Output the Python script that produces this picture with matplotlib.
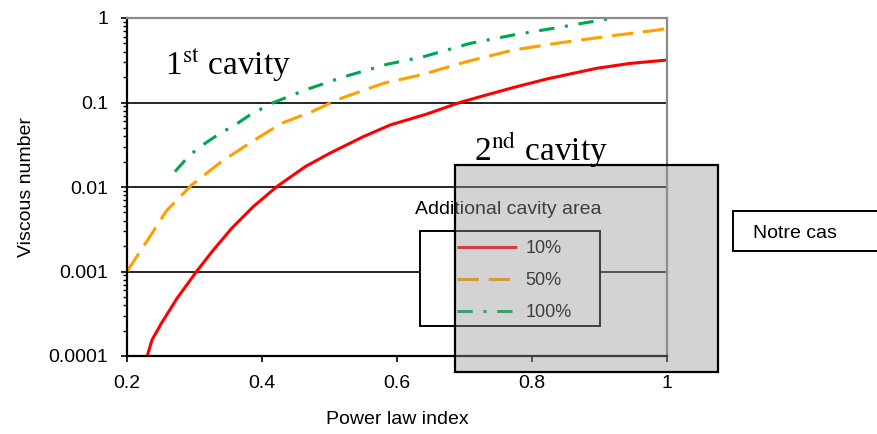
import matplotlib
matplotlib.use("Agg")
import matplotlib.pyplot as plt
from matplotlib.patches import Rectangle
from matplotlib.ticker import FixedLocator, FixedFormatter, LogLocator, NullFormatter

plt.rcParams['font.family'] = ['Liberation Sans', 'DejaVu Sans']
plt.rcParams['mathtext.fontset'] = 'stix'

# ---- data ----
red_x = [0.23, 0.237, 0.251, 0.274, 0.303, 0.328, 0.355, 0.387, 0.422, 0.464, 0.50,
         0.55, 0.59, 0.644, 0.693, 0.723, 0.772, 0.822, 0.896, 0.945, 1.00]
red_y = [1.0e-4, 1.55e-4, 2.44e-4, 4.8e-4, 1.0e-3, 1.8e-3, 3.24e-3, 5.85e-3, 1.01e-2,
         1.74e-2, 2.5e-2, 3.94e-2, 5.42e-2, 7.3e-2, 0.10, 0.117, 0.15, 0.19, 0.254,
         0.29, 0.318]

orange_x = [0.20, 0.229, 0.259, 0.296, 0.34, 0.385, 0.429, 0.474, 0.513, 0.58, 0.634,
            0.703, 0.772, 0.846, 0.92, 0.985, 1.00]
orange_y = [1.0e-3, 2.25e-3, 5.3e-3, 1.06e-2, 2.0e-2, 3.44e-2, 5.68e-2, 7.8e-2, 0.109,
            0.169, 0.211, 0.304, 0.418, 0.515, 0.618, 0.72, 0.75]

green_x = [0.271, 0.293, 0.316, 0.338, 0.36, 0.382, 0.414, 0.464, 0.52, 0.585, 0.639,
           0.708, 0.772, 0.846, 0.92, 0.95]
green_y = [0.0152, 0.0239, 0.033, 0.0432, 0.0542, 0.0711, 0.0977, 0.1406, 0.20, 0.283,
           0.348, 0.50, 0.629, 0.789, 1.0, 1.1]

series_labels = ["10%", "50%", "100%"]
x_ticks = [0.2, 0.4, 0.6, 0.8, 1.0]
x_tick_labels = ["0.2", "0.4", "0.6", "0.8", "1"]
y_ticks = [1e-4, 1e-3, 1e-2, 1e-1, 1]
y_tick_labels = ["0.0001", "0.001", "0.01", "0.1", "1"]

W, H = 877, 434
fig = plt.figure(figsize=(W / 100, H / 100), dpi=100)
ax = fig.add_axes([127 / W, 1 - 356 / H, 540 / W, 338 / H])

ax.set_yscale('log')
ax.set_xlim(0.2, 1.0)
ax.set_ylim(1e-4, 1)

ax.plot(red_x, red_y, color='#ff0000', lw=2.2, label=series_labels[0], solid_capstyle='butt')
ax.plot(orange_x, orange_y, color='#ffa000', lw=2.2, dashes=(7, 3.2), label=series_labels[1])
ax.plot(green_x, green_y, color='#00a550', lw=2.2, dashes=(5, 3.5, 1, 3.5), label=series_labels[2])

ax.grid(axis='y', which='major', color='black', lw=1.2)
ax.set_axisbelow(True)

ax.xaxis.set_major_locator(FixedLocator(x_ticks))
ax.xaxis.set_major_formatter(FixedFormatter(x_tick_labels))
ax.yaxis.set_major_locator(FixedLocator(y_ticks))
ax.yaxis.set_major_formatter(FixedFormatter(y_tick_labels))
ax.yaxis.set_minor_locator(LogLocator(base=10, subs=range(2, 10)))
ax.yaxis.set_minor_formatter(NullFormatter())

ax.tick_params(axis='both', which='major', direction='out', length=4.5, width=1.2,
               labelsize=14, colors='black')
ax.tick_params(axis='y', which='major', pad=9)
ax.tick_params(axis='x', which='major', pad=9)
ax.tick_params(axis='y', which='minor', direction='out', length=3, width=1)
ax.tick_params(right=False, top=False, which='both')

for s in ['left', 'bottom']:
    ax.spines[s].set_color('black')
    ax.spines[s].set_linewidth(1.6)
for s in ['top', 'right']:
    ax.spines[s].set_color('#8a8a8a')
    ax.spines[s].set_linewidth(1.6)

ax.set_xlabel("Power law index", fontsize=14, labelpad=14)
ax.set_ylabel("Viscous number", fontsize=14, labelpad=10)

# annotations
fig.text(165 / W, 1 - 65 / H, r"1$^{\mathrm{st}}$ cavity", fontsize=24,
         family='Liberation Serif', va='center', ha='left')
fig.text(474 / W, 1 - 150 / H, r"2$^{\mathrm{nd}}$ cavity", fontsize=24,
         family='Liberation Serif', va='center', ha='left', zorder=4)

# legend box (white, in axes so overlay covers it)
ax.add_patch(Rectangle((420 / W, 1 - 326 / H), 180 / W, 95 / H, transform=fig.transFigure,
                       facecolor='white', edgecolor='black', lw=1.4, clip_on=False, zorder=4))
leg = ax.legend(loc='upper left', bbox_to_anchor=(457 / W, 1 - 240 / H),
                bbox_transform=fig.transFigure, frameon=False, fontsize=13,
                handlelength=3.33, handletextpad=0.45, labelspacing=0.84,
                borderpad=0, borderaxespad=0)
leg.set_zorder(5)

fig.text(415 / W, 1 - 210 / H, "Additional cavity area", fontsize=14, va='center',
         ha='left', zorder=1)

# grey overlay
fig.add_artist(Rectangle((455 / W, 1 - 372 / H), 263 / W, 207 / H, transform=fig.transFigure,
                         facecolor=(150 / 255, 150 / 255, 150 / 255, 0.42),
                         edgecolor='black', lw=1.6, zorder=2))

# "Notre cas" box
fig.add_artist(Rectangle((733 / W, 1 - 251 / H), 0.25, 40 / H, transform=fig.transFigure,
                         facecolor='white', edgecolor='black', lw=1.4, zorder=3))
fig.text(753 / W, 1 - 234 / H, "Notre cas", fontsize=14, va='center', ha='left', zorder=4)

fig.savefig("out.png", dpi=100)
